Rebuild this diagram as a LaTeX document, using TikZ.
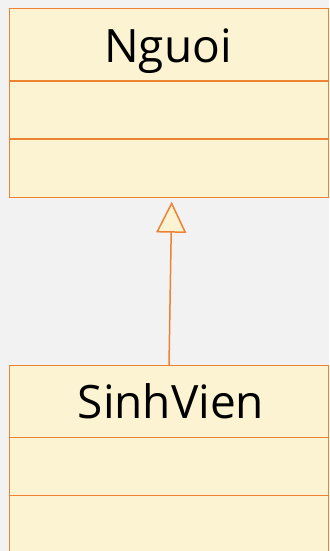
\documentclass[tikz,border=0pt]{standalone}
\usepackage{fontspec}
\setmainfont{Open Sans}
\usetikzlibrary{arrows.meta}
\definecolor{bg}{HTML}{F2F2F2}
\definecolor{classfill}{HTML}{FCF3D2}
\definecolor{classline}{HTML}{EE8233}
\tikzset{
  compart/.style={draw=classline, fill=classfill, line width=1.2pt, rectangle, inner sep=0pt, anchor=north west, minimum width=319.5pt},
  classname/.style={anchor=base, inner sep=0pt, font=\fontsize{46}{50}\selectfont, text=black},
  inherit/.style={draw=classline, line width=1.5pt, -{Triangle[open, fill=classfill, length=31pt, width=30pt, line width=1.5pt]}}
}
\begin{document}
\begin{tikzpicture}[x=1pt,y=1pt]
\useasboundingbox (0,0) rectangle (329,551);
\fill[bg] (0,0) rectangle (329,551);
\clip (0,0) rectangle (329,551);
% Nguoi
\node[compart, minimum height=72.5pt] (nghead) at (8.5,543) {};
\node[compart, minimum height=58pt] (ngattr) at (8.5,470.5) {};
\node[compart, minimum height=58.5pt] (ngops) at (8.5,412.5) {};
\node[classname] (ngname) at (168,488) {Nguoi};
% SinhVien
\node[compart, minimum height=72pt] (svhead) at (8.5,186) {};
\node[compart, minimum height=58pt] (svattr) at (8.5,114) {};
\node[compart, minimum height=70pt] (svops) at (8.5,56) {};
\node[classname] (svname) at (171,132) {SinhVien};
% generalization
\coordinate (tip) at (171.7,349.3);
\coordinate (start) at (169,186);
\draw[inherit] (start) -- (tip);
\end{tikzpicture}
\end{document}
